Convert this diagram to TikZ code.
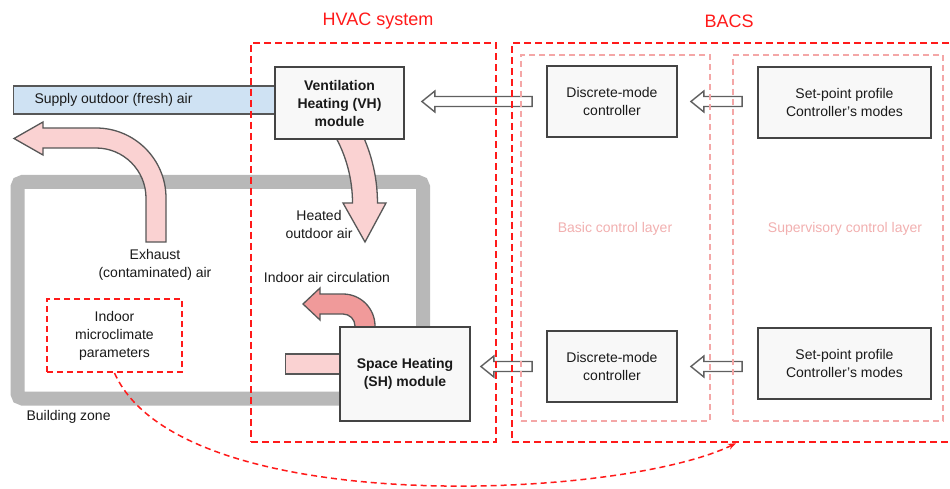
\documentclass[tikz,border=0pt]{standalone}
\usepackage{fontspec}
\setmainfont{Liberation Sans}
\usetikzlibrary{calc,arrows.meta}
\definecolor{redd}{HTML}{FF1A1A}
\definecolor{pinkline}{HTML}{F4A7A7}
\definecolor{pinktext}{HTML}{F2B0B0}
\definecolor{lightpink}{HTML}{FAD2D2}
\definecolor{darkpink}{HTML}{F09A9A}
\definecolor{framegray}{HTML}{B8B8B8}
\definecolor{boxfill}{HTML}{F8F8F8}
\definecolor{edgegray}{HTML}{444444}
\definecolor{bluefill}{HTML}{CFE2F3}
\definecolor{txt}{HTML}{1A1A1A}
\newcommand\hollowarrow[3]{%
  \draw[hollow] let \p1=(#1), \p2=(#2), \p3=(#3) in
    (\x1,\y3+5pt) -- (\x2+13pt,\y3+5pt) -- (\x2+13pt,\y3+10.5pt) -- (\x2,\y3)
    -- (\x2+13pt,\y3-10.5pt) -- (\x2+13pt,\y3-5pt) -- (\x1,\y3-5pt) -- cycle;}
\begin{document}
\begin{tikzpicture}[x=1pt,y=1pt,
  every node/.style={font=\fontsize{14}{18}\selectfont, text=txt},
  modbox/.style={draw=edgegray, line width=1.8pt, fill=boxfill, align=center, inner sep=0pt},
  boldtext/.style={font=\fontsize{14}{18}\selectfont\bfseries},
  outerdash/.style={draw=redd, line width=2.4pt, dash pattern=on 7pt off 4pt, inner sep=0pt},
  innerdash/.style={draw=pinkline, line width=1.4pt, dash pattern=on 6pt off 4pt, inner sep=0pt},
  fatarrow/.style={draw=edgegray!90, line width=1.3pt, line join=miter},
  hollow/.style={draw=edgegray!85, line width=1.4pt, fill=white},
  barbox/.style={draw=edgegray!90, line width=1.4pt, inner sep=0pt},
]
\path[use as bounding box, clip] (0,0) rectangle (950,-489);
\fill[white] (0,0) rectangle (950,-489);

% building zone frame
\draw[framegray, line width=14pt, rounded corners=5pt] (17.5,-182) rectangle (423,-398.5);

% bars
\node[barbox, fill=bluefill, minimum width=264pt, minimum height=28pt, anchor=west] (supply) at (13,-100) {};
\node[anchor=west] (supplyt) at (31,-100) {Supply outdoor (fresh) air};
\node[barbox, fill=lightpink, minimum width=60pt, minimum height=20pt, anchor=west] (shbar) at (285,-364) {};

% exhaust arrow
\draw[fatarrow, fill=lightpink] (166,-242) -- (166,-198) arc[start angle=0, end angle=90, radius=70]
  -- (43,-128) -- (43,-122) -- (14,-138.5) -- (43,-155) -- (43,-148) -- (96,-148)
  arc[start angle=90, end angle=0, radius=50] -- (146,-242) -- cycle;
% heated outdoor air arrow
\draw[fatarrow, fill=lightpink] (355.7,-121.75) arc[start angle=30, end angle=0, radius=162.5]
  -- (386,-203) -- (365,-242) -- (343,-203) -- (352.5,-203)
  arc[start angle=0, end angle=30, radius=137.5] -- cycle;
% indoor air circulation arrow
\draw[fatarrow, fill=darkpink] (375,-335) -- (375,-326) arc[start angle=0, end angle=90, radius=32]
  -- (320,-294) -- (320,-288) -- (303,-304) -- (320,-320) -- (320,-314) -- (343,-314)
  arc[start angle=90, end angle=0, radius=12] -- (355,-335) -- cycle;

% modules and controllers
\node[modbox, boldtext, minimum width=129pt, minimum height=72pt] (vh) at (339.5,-103) {Ventilation\\Heating (VH)\\module};
\node[modbox, boldtext, minimum width=130pt, minimum height=94pt] (sh) at (405,-374) {Space Heating\\(SH) module};
\node[modbox, minimum width=130pt, minimum height=71pt] (dm1) at (612,-101.5) {Discrete-mode\\controller};
\node[modbox, minimum width=130pt, minimum height=71pt] (dm2) at (612,-366.5) {Discrete-mode\\controller};
\node[modbox, minimum width=173pt, minimum height=71pt] (sp1) at (844.5,-102.5) {Set-point profile\\Controller’s modes};
\node[modbox, minimum width=173pt, minimum height=71pt] (sp2) at (844.5,-363.5) {Set-point profile\\Controller’s modes};

% hollow arrows
\hollowarrow{$(sp1.west)+(-15,0)$}{$(dm1.east)+(13,0)$}{dm1.center}
\hollowarrow{$(sp2.west)+(-15,0)$}{$(dm2.east)+(13,0)$}{dm2.center}
\hollowarrow{$(dm1.west)+(-14,0)$}{$(vh.east)+(17,0)$}{dm1.center}
\hollowarrow{$(dm2.west)+(-14,0)$}{$(sh.east)+(10,0)$}{dm2.center}

% dashed system boxes
\node[outerdash, minimum width=245pt, minimum height=399pt] (hvac) at (373.5,-242.5) {};
\node[outerdash, minimum width=448pt, minimum height=399pt] (bacs) at (736,-242.5) {};
\node[innerdash, minimum width=189pt, minimum height=366pt] (basic) at (615.5,-238) {};
\node[innerdash, minimum width=210pt, minimum height=366pt] (super) at (838,-238) {};

% labels
\node[text=redd, font=\fontsize{18}{22}\selectfont] (hvact) at (378,-21) {HVAC system};
\node[text=redd, font=\fontsize{18}{22}\selectfont] (bacst) at (729,-21) {BACS};
\node[text=pinktext] (bcl) at (615,-229) {Basic control layer};
\node[text=pinktext] (scl) at (845,-229) {Supervisory control layer};
\node[align=center] (heated) at (319,-224) {Heated\\outdoor air};
\node[align=center] (exh) at (155,-265) {Exhaust\\(contaminated) air};
\node (circ) at (327,-277) {Indoor air circulation};
\node[anchor=west] (bz) at (23,-417) {Building zone};
\node[draw=redd, line width=2pt, dash pattern=on 6pt off 4pt, minimum width=135pt, minimum height=73pt, align=center, inner sep=0pt] (imc) at (114.5,-335.5) {Indoor\\microclimate\\parameters};

% feedback curve
\draw[redd, line width=1.5pt, dash pattern=on 6pt off 4pt, -{Stealth[length=8pt,width=6pt]}]
  (imc.south) .. controls (180,-520) and (620,-500) .. (bacs.south);
\end{tikzpicture}
\end{document}
